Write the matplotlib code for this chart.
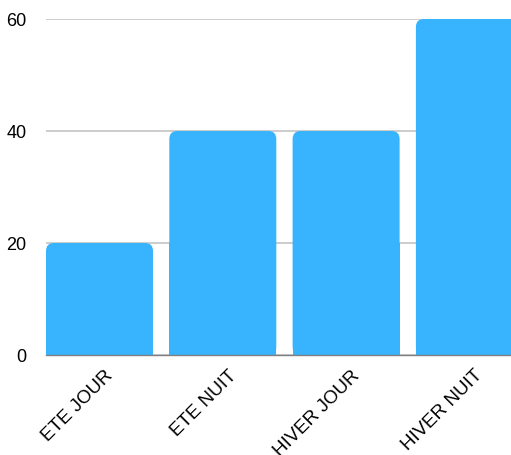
import matplotlib
matplotlib.use('Agg')
from matplotlib import pyplot as plt
from matplotlib.patches import FancyBboxPatch, Rectangle
from matplotlib import transforms

# data
categories = ['ETE JOUR', 'ETE NUIT', 'HIVER JOUR', 'HIVER NUIT']
values = [20, 40, 40, 60]
yticks = [0, 20, 40, 60]

blue = '#38b4fe'
plt.rcParams['font.family'] = ['Liberation Sans', 'DejaVu Sans']

fig = plt.figure(figsize=(5.11, 4.56), dpi=100)
W, H = 511, 456
left, right, top, bottom = 46, 511, 20, 356
ax = fig.add_axes([left / W, 1 - bottom / H, (right - left) / W, (bottom - top) / H])

slot = 123.3  # px per category
bw = 107 / slot
ax.set_xlim(0, (right - left) / slot)
ax.set_ylim(0, 60)

bars = ax.bar(range(len(values)), values, width=bw, align='edge', color=blue, zorder=2)

# rounded tops
r = 8 / slot
aspect = (60 / (bottom - top)) / (1 / slot)
for b in bars:
    x, y, w, h = b.get_x(), b.get_y(), b.get_width(), b.get_height()
    b.set_visible(False)
    ax.add_patch(FancyBboxPatch((x, y), w, h, boxstyle=f'round,pad=0,rounding_size={r}',
                                mutation_aspect=aspect, fc=blue, ec='none', zorder=2))
    ax.add_patch(Rectangle((x, y), w, h / 2, fc=blue, ec='none', zorder=2))

ax.set_yticks(yticks)
ax.set_yticklabels([str(v) for v in yticks], fontsize=13)
ax.grid(axis='y', color='#c4c4c4', linewidth=1.2, zorder=0)
ax.tick_params(axis='y', length=0, pad=14)
ax.tick_params(axis='x', length=0, pad=8)

ax.set_xticks([i + bw / 2 for i in range(len(categories))])
ax.set_xticklabels(categories, rotation=45, ha='right', rotation_mode='anchor', fontsize=13.5)
off = transforms.ScaledTranslation(5 / 100, 0, fig.dpi_scale_trans)
for lab in ax.get_xticklabels():
    lab.set_transform(lab.get_transform() + off)

for s in ['top', 'right', 'left']:
    ax.spines[s].set_visible(False)
ax.spines['bottom'].set_color('#808080')
ax.spines['bottom'].set_linewidth(1)
ax.spines['bottom'].set_zorder(3)

fig.savefig('out.png', dpi=100)
